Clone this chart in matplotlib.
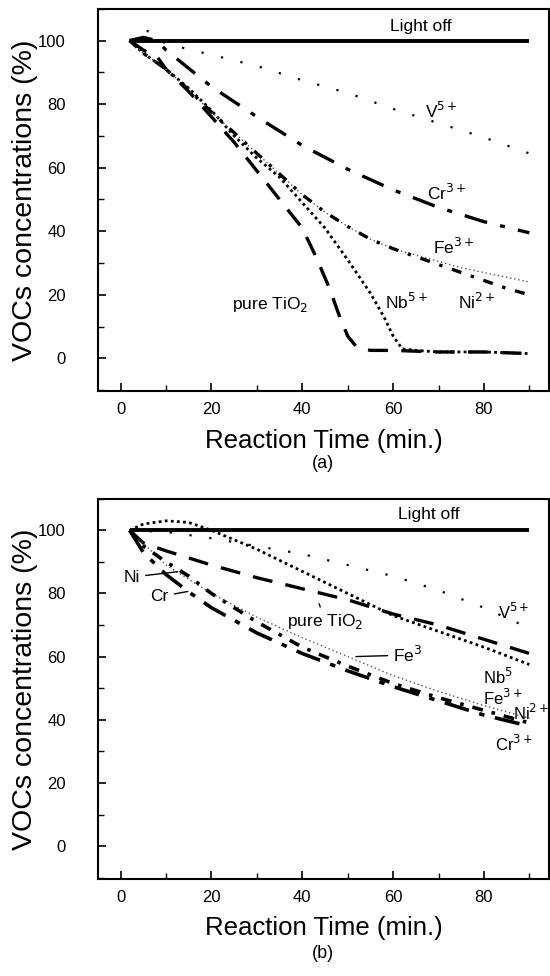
import matplotlib
matplotlib.use("Agg")
import matplotlib.pyplot as plt
from matplotlib.ticker import MultipleLocator

plt.rcParams['font.family'] = ['Liberation Sans', 'DejaVu Sans']

# ---------------- Panel (a) data ----------------
a_light_x = [2, 90]
a_light_y = [100, 100]

a_v_x = [2, 4, 6, 8, 10, 20, 30, 40, 50, 60, 70, 80, 90]
a_v_y = [100, 102.5, 103, 101, 99, 95.5, 92, 87.5, 83.5, 78.5, 74, 69.5, 64.5]

a_cr_x = [2, 5, 8, 10, 20, 30, 40, 50, 60, 70, 80, 90]
a_cr_y = [100, 101, 100, 97, 85.5, 76, 67, 59.5, 53, 47.5, 43, 39.5]

a_tio2_x = [2, 5, 8, 10, 15, 20, 25, 30, 35, 40, 43, 46, 48, 50, 52, 55, 60, 70, 80, 90]
a_tio2_y = [100, 97, 95, 91, 84, 76, 68, 59, 50, 41, 32, 22, 14, 7, 3.5, 2.5, 2.5, 2, 2, 1.5]

a_nb_x = [2, 5, 10, 15, 20, 25, 30, 35, 40, 45, 50, 55, 58, 60, 62, 65, 70, 80, 90]
a_nb_y = [100, 96, 91, 85, 78, 70, 63, 57, 49, 41, 31, 20.5, 13, 7, 3, 2.5, 2, 2, 1.5]

a_ni_x = [2, 5, 10, 15, 20, 25, 30, 35, 40, 45, 50, 55, 60, 65, 70, 75, 80, 85, 90]
a_ni_y = [100, 96, 91, 84.5, 77.5, 71, 64.5, 58, 51.5, 46, 41.5, 37.5, 34.5, 32, 29.5, 27, 24.5, 22, 20]

a_fe_x = [2, 5, 10, 15, 20, 25, 30, 35, 40, 45, 50, 55, 60, 65, 70, 75, 80, 85, 90]
a_fe_y = [100, 96, 91, 84.5, 77.5, 71, 64.5, 58, 51.5, 46, 41.5, 37.5, 34.5, 32.5, 30.5, 28.5, 27, 25.5, 24]

# ---------------- Panel (b) data ----------------
b_light_x = [2, 90]
b_light_y = [100, 100]

b_v_x = [2, 10, 20, 30, 40, 50, 60, 70, 80, 90]
b_v_y = [100, 99.5, 97.5, 95, 92.5, 89, 85.5, 81, 75.5, 69]

b_nb_x = [2, 5, 10, 15, 20, 30, 40, 50, 60, 70, 80, 90]
b_nb_y = [100, 102, 103, 102.5, 100, 94, 87, 80, 73, 68, 63, 57.5]

b_tio2_x = [2, 5, 10, 20, 30, 40, 50, 60, 70, 80, 90]
b_tio2_y = [100, 96, 93.5, 89, 85, 81.5, 78, 73.5, 70, 65.5, 61]

b_cr_x = [2, 5, 10, 15, 20, 30, 40, 50, 60, 70, 80, 90]
b_cr_y = [100, 93, 86, 80.5, 75.5, 67.5, 61, 55.5, 50.5, 46, 41.5, 38]

b_ni_x = [2, 5, 10, 15, 20, 30, 40, 50, 60, 70, 80, 90]
b_ni_y = [100, 95, 90, 85.5, 80, 71, 63, 57, 51.5, 47, 43, 39]

b_fe_x = [2, 10, 20, 30, 40, 50, 60, 70, 80, 90]
b_fe_y = [100, 89, 80, 72.5, 66, 60, 54, 49, 44.5, 40.5]

xticks = [0, 20, 40, 60, 80]
yticks = [0, 20, 40, 60, 80, 100]

fig = plt.figure(figsize=(5.5, 9.76), dpi=100)
ax1 = fig.add_axes([0.178, 0.599, 0.82, 0.392])
ax2 = fig.add_axes([0.178, 0.0994, 0.82, 0.3896])

def style_axes(ax):
    ax.set_xlim(-5, 94.3)
    ax.set_ylim(-10.4, 110)
    ax.set_xticks(xticks)
    ax.set_yticks(yticks)
    ax.xaxis.set_minor_locator(MultipleLocator(10))
    ax.yaxis.set_minor_locator(MultipleLocator(10))
    ax.tick_params(which='both', direction='in', top=False, right=False)
    ax.tick_params(which='major', length=6, width=1.2, labelsize=12)
    ax.tick_params(axis='y', which='major', pad=23)
    ax.tick_params(axis='x', which='major', pad=8)
    ax.tick_params(which='minor', length=4, width=1.0)
    for s in ax.spines.values():
        s.set_linewidth(1.5)
    ax.set_xlabel('Reaction Time (min.)', fontsize=18.5, labelpad=8)
    ax.set_ylabel('VOCs concentrations (%)', fontsize=20.5, labelpad=0)

k = 'black'
# Panel (a)
ax1.plot(a_light_x, a_light_y, color=k, lw=2.8, solid_capstyle='butt')
ax1.plot(a_v_x, a_v_y, color=k, lw=1.6, linestyle=(0, (1, 8)))
ax1.plot(a_cr_x, a_cr_y, color=k, lw=2.4, linestyle=(0, (7, 4, 1.5, 4)))
ax1.plot(a_tio2_x, a_tio2_y, color=k, lw=2.4, linestyle=(0, (6, 4)))
ax1.plot(a_nb_x, a_nb_y, color=k, lw=2.0, linestyle=(0, (1, 1.2)))
ax1.plot(a_fe_x, a_fe_y, color='#555555', lw=1.0, linestyle=(0, (1, 2)))
ax1.plot(a_ni_x, a_ni_y, color=k, lw=2.4, linestyle=(0, (3, 3, 1, 3)))

fs = 12.5
ax1.text(59.3, 104.5, 'Light off', fontsize=fs, va='center', ha='left')
ax1.text(67, 78, r'V$^{5+}$', fontsize=fs, va='center')
ax1.text(67.5, 52, r'Cr$^{3+}$', fontsize=fs, va='center')
ax1.text(68.8, 35, r'Fe$^{3+}$', fontsize=fs, va='center')
ax1.text(74.3, 17.6, r'Ni$^{2+}$', fontsize=fs, va='center')
ax1.text(58.2, 17.6, r'Nb$^{5+}$', fontsize=fs, va='center')
ax1.text(24.6, 17.0, r'pure TiO$_2$', fontsize=fs, va='center')

# Panel (b)
ax2.plot(b_light_x, b_light_y, color=k, lw=2.8, solid_capstyle='butt')
ax2.plot(b_v_x, b_v_y, color=k, lw=1.6, linestyle=(0, (1, 8)))
ax2.plot(b_nb_x, b_nb_y, color=k, lw=2.0, linestyle=(0, (1, 1.2)))
ax2.plot(b_tio2_x, b_tio2_y, color=k, lw=2.4, linestyle=(0, (6, 4)))
ax2.plot(b_fe_x, b_fe_y, color='#555555', lw=1.0, linestyle=(0, (1, 2)))
ax2.plot(b_ni_x, b_ni_y, color=k, lw=2.6, linestyle=(0, (3, 2.5, 1, 2.5)))
ax2.plot(b_cr_x, b_cr_y, color=k, lw=2.6, linestyle=(0, (7, 3, 1.5, 3)))

fs2 = 12
ax2.text(61, 105, 'Light off', fontsize=fs, va='center', ha='left')
ax2.text(83, 74, r'V$^{5+}$', fontsize=fs2, va='center')
ax2.text(79.8, 53.6, r'Nb$^{5}$', fontsize=fs2, va='center')
ax2.text(79.8, 47, r'Fe$^{3+}$', fontsize=fs2, va='center')
ax2.text(86.3, 42.3, r'Ni$^{2+}$', fontsize=fs2, va='center')
ax2.text(82.5, 32.5, r'Cr$^{3+}$', fontsize=fs2, va='center')

arrow = dict(arrowstyle='-', color=k, lw=1.0)
ax2.annotate('Ni', xy=(13.2, 87), xytext=(0.7, 85.2), fontsize=fs, va='center',
             arrowprops=arrow)
ax2.annotate('Cr', xy=(15.4, 80.8), xytext=(6.6, 79), fontsize=fs, va='center',
             arrowprops=arrow)
ax2.annotate(r'pure TiO$_2$', xy=(43.5, 77.6), xytext=(36.7, 71), fontsize=fs,
             va='center', arrowprops=arrow)
ax2.annotate(r'Fe$^3$', xy=(51.2, 60), xytext=(60, 60.5), fontsize=fs,
             va='center', arrowprops=arrow)

style_axes(ax1)
style_axes(ax2)

fig.text(0.5 * (0.178 + 0.998), 1 - 463 / 976, '(a)', fontsize=13, ha='center', va='center')
fig.text(0.5 * (0.178 + 0.998), 1 - 953 / 976, '(b)', fontsize=13, ha='center', va='center')

fig.savefig('out.png', dpi=100)
